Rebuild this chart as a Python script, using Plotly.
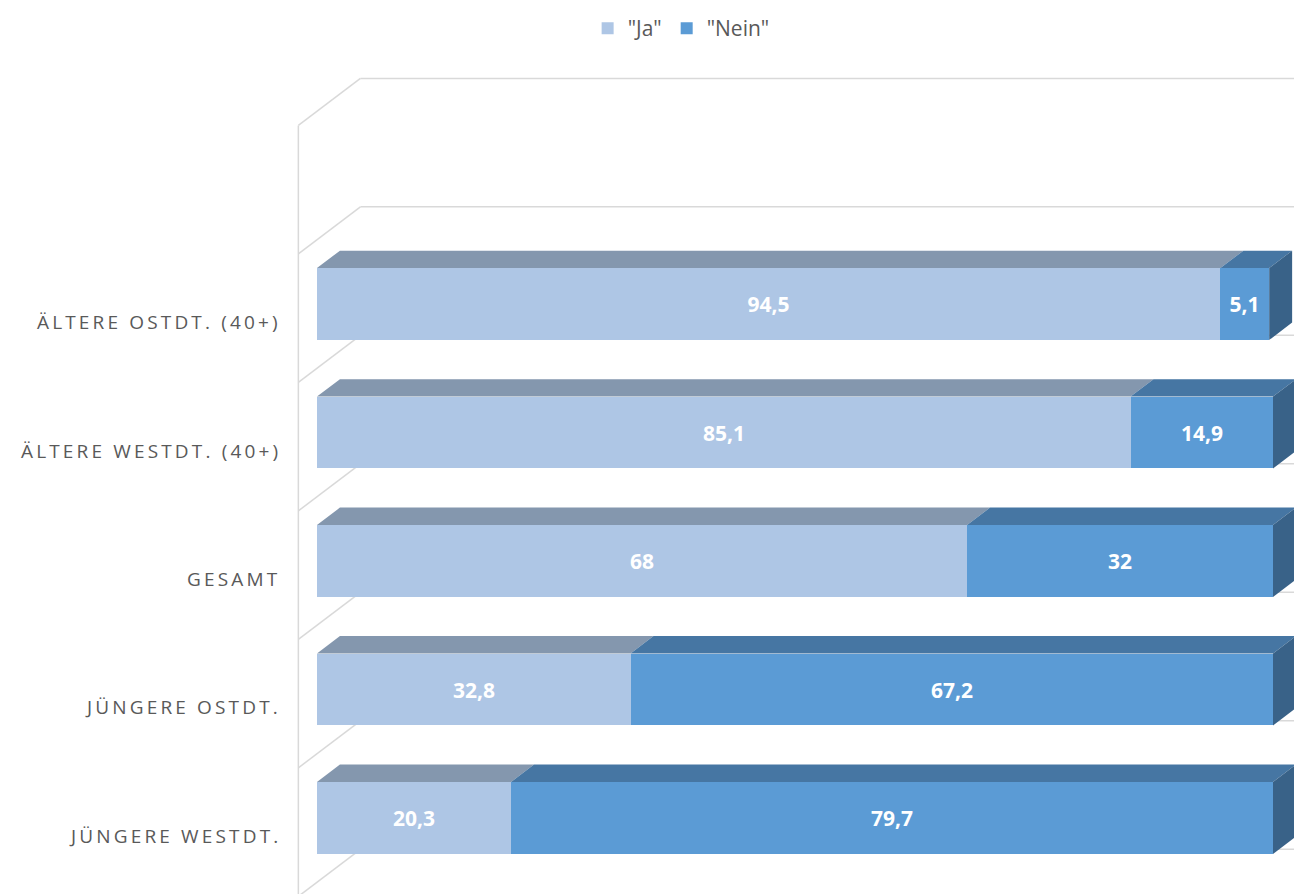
import plotly.graph_objects as go

# ---------------- data ----------------
categories = ["JÜNGERE WESTDT.", "JÜNGERE OSTDT.", "GESAMT",
              "ÄLTERE WESTDT. (40+)", "ÄLTERE OSTDT. (40+)"]
ja_values = [20.3, 32.8, 68, 85.1, 94.5]
nein_values = [79.7, 67.2, 32, 14.9, 5.1]
series_names = ['"Ja"', '"Nein"']

# ---------------- style ----------------
JA_FRONT, JA_TOP = "#AEC6E5", "#8497AE"
NEIN_FRONT, NEIN_TOP, NEIN_SIDE = "#5B9BD5", "#4676A3", "#396288"
GRID = "#D9D9D9"
TEXT = "#595959"

BAR_W = 0.56          # bar thickness (category units)
WALL_DX, WALL_DY = 6.49, 0.366   # full depth of the 3D wall (x units, y units)
BAR_Z0 = 0.30         # depth fraction of bar front face
BAR_DEPTH = 0.37      # depth fraction occupied by the bar
BDX, BDY = BAR_DEPTH * WALL_DX, BAR_DEPTH * WALL_DY
N_SLOTS = len(categories) + 1    # one empty slot on top
X_MAX = 100

pos = list(range(len(categories)))

def spaced(s):
    return "\u2009".join(s)

fig = go.Figure()

# front faces of bars
for name, vals, col in [(series_names[0], ja_values, JA_FRONT),
                        (series_names[1], nein_values, NEIN_FRONT)]:
    fig.add_trace(go.Bar(
        y=pos, x=vals, orientation="h", name=name, width=BAR_W,
        marker=dict(color=col, line=dict(width=0)),
        texttemplate="%{x}", textposition="inside", insidetextanchor="middle",
        textangle=0,
        insidetextfont=dict(color="white", size=21, family="Open Sans", weight="bold"),
        hoverinfo="skip",
    ))

# top faces and side faces (3D effect), computed from the data
def top_faces(starts, ends):
    xs, ys = [], []
    for p, x0, x1 in zip(pos, starts, ends):
        yt = p + BAR_W / 2
        xs += [x0, x1, x1 + BDX, x0 + BDX, x0, None]
        ys += [yt, yt, yt + BDY, yt + BDY, yt, None]
    return xs, ys

ja_start = [0] * len(ja_values)
ja_end = ja_values
nein_start = ja_values
nein_end = [a + b for a, b in zip(ja_values, nein_values)]

for (starts, ends, col) in [(ja_start, ja_end, JA_TOP), (nein_start, nein_end, NEIN_TOP)]:
    xs, ys = top_faces(starts, ends)
    fig.add_trace(go.Scatter(x=xs, y=ys, mode="lines", fill="toself", fillcolor=col,
                             line=dict(width=0, color=col), showlegend=False, hoverinfo="skip"))

sx, sy = [], []
for p, xe in zip(pos, nein_end):
    yt, yb = p + BAR_W / 2, p - BAR_W / 2
    sx += [xe, xe, xe + BDX, xe + BDX, xe, None]
    sy += [yb, yt, yt + BDY, yb + BDY, yb, None]
fig.add_trace(go.Scatter(x=sx, y=sy, mode="lines", fill="toself", fillcolor=NEIN_SIDE,
                         line=dict(width=0, color=NEIN_SIDE), showlegend=False, hoverinfo="skip"))

# 3D wall gridlines
wall_x = -BAR_Z0 * WALL_DX
shift = 0.5 - BAR_Z0 * WALL_DY
bounds = [c + shift for c in range(-1, N_SLOTS)]
shapes = []
shapes.append(dict(type="line", xref="x", yref="y", x0=wall_x, x1=wall_x,
                   y0=bounds[0] - 0.5, y1=bounds[-1], line=dict(color=GRID, width=1.5), layer="below"))
for b in bounds:
    shapes.append(dict(type="line", xref="x", yref="y", x0=wall_x, y0=b,
                       x1=wall_x + WALL_DX, y1=b + WALL_DY,
                       line=dict(color=GRID, width=1.5), layer="below"))
    shapes.append(dict(type="line", xref="x", yref="y", x0=wall_x + WALL_DX, y0=b + WALL_DY,
                       x1=X_MAX + wall_x + WALL_DX + 5, y1=b + WALL_DY,
                       line=dict(color=GRID, width=1.5), layer="below"))

# category labels
annotations = []
for p, c in zip(pos, categories):
    annotations.append(dict(x=wall_x - 1.9, y=p - 0.14, xref="x", yref="y", text=spaced(c),
                            showarrow=False, xanchor="right", yanchor="middle",
                            font=dict(family="Open Sans", size=19, color=TEXT)))

fig.update_layout(
    width=1302, height=894,
    margin=dict(l=0, r=0, t=0, b=0),
    paper_bgcolor="white", plot_bgcolor="white",
    barmode="stack", bargap=0,
    separators=",.",
    showlegend=True,
    legend=dict(orientation="h", x=0.517, xanchor="center", y=1, yanchor="top",
                font=dict(family="Open Sans", size=21, color=TEXT),
                itemsizing="constant", traceorder="normal"),
    xaxis=dict(range=[-32.32, 103.87], visible=False, fixedrange=True),
    yaxis=dict(range=[-0.654, 6.304], visible=False, fixedrange=True),
    shapes=shapes, annotations=annotations,
)

fig.write_html("out.html")
